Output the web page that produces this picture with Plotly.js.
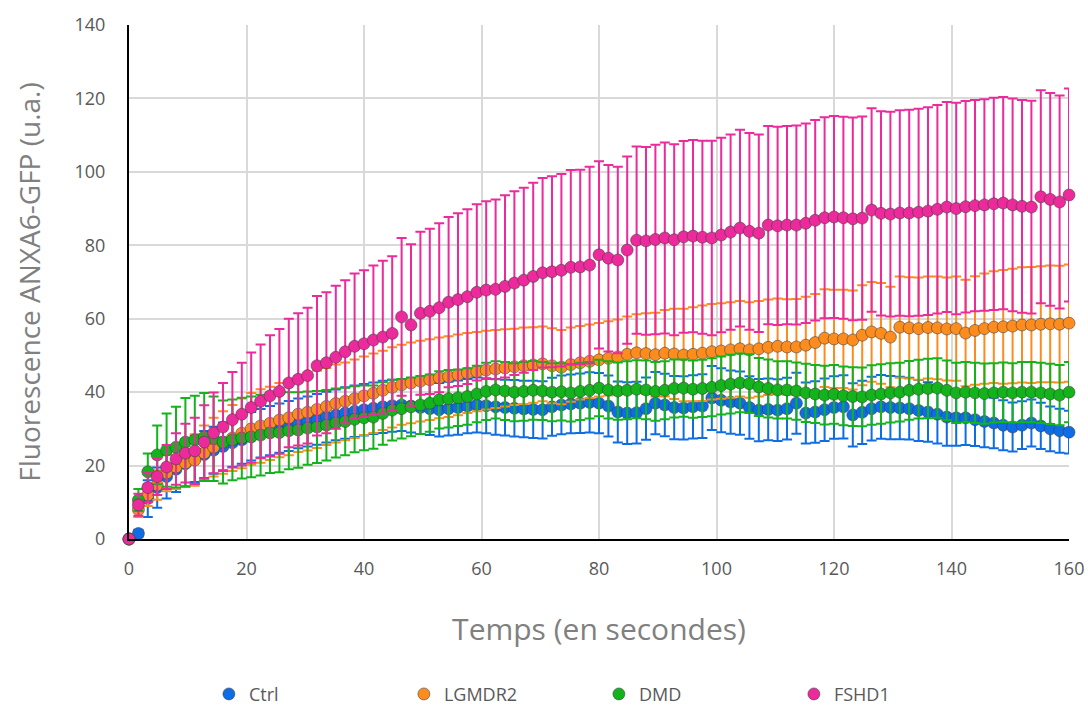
<!DOCTYPE html>
<html>
<head>
<meta charset="utf-8">
<script src="https://cdn.plot.ly/plotly-3.0.1.min.js"></script>
<style>
html,body{margin:0;padding:0;background:#fff;}
#chart{width:1088px;height:711px;}
</style>
</head>
<body>
<div id="chart"></div>
<script>
// Time axis (seconds): one acquisition every 1.6 s
const time = [0,1.6,3.2,4.8,6.4,8,9.6,11.2,12.8,14.4,16,17.6,19.2,20.8,22.4,24,25.6,27.2,28.8,30.4,32,33.6,35.2,36.8,38.4,40,41.6,43.2,44.8,46.4,48,49.6,51.2,52.8,54.4,56,57.6,59.2,60.8,62.4,64,65.6,67.2,68.8,70.4,72,73.6,75.2,76.8,78.4,80,81.6,83.2,84.8,86.4,88,89.6,91.2,92.8,94.4,96,97.6,99.2,100.8,102.4,104,105.6,107.2,108.8,110.4,112,113.6,115.2,116.8,118.4,120,121.6,123.2,124.8,126.4,128,129.6,131.2,132.8,134.4,136,137.6,139.2,140.8,142.4,144,145.6,147.2,148.8,150.4,152,153.6,155.2,156.8,158.4,160];

const seriesNames = ["Ctrl","LGMDR2","DMD","FSHD1"];

const ctrlMean = [0,1.5,11,14,17,19,20.5,21.8,23,24.2,25.2,26.2,27,28,28.8,29.5,30.2,30.8,31.5,32,32.6,33.2,33.8,34.3,34.8,35.2,35.6,36,36.3,36.5,36.2,35.8,35.5,35.2,35.5,35.8,36.2,36.5,36.3,36,35.8,35.6,35.4,35.3,35.2,36,36.5,36.8,37,37.2,37,36.2,34.6,34.3,34.4,35.5,37,36.5,35.8,35.7,36,36.2,38.4,37.8,37.3,37,35.8,35.1,35.3,35.1,35.5,37,34.3,34.6,35.2,35.8,36,33.8,34.5,35.5,36,35.8,35.7,35.5,35,34.6,34,33.2,33,33,32.5,32,31.6,31,30.5,31,31.6,30.8,30,29.5,29.1];
const ctrlErr = [0,1,5,5.5,6,6.2,6.3,6.3,6.4,6.4,6.5,6.5,6.5,6.6,6.6,6.7,6.7,6.8,6.8,6.8,6.9,6.9,6.9,7,7,7,7,7.1,7.1,7.1,7.2,7.2,7.2,7.3,7.3,7.4,7.4,7.5,7.5,7.6,7.6,7.7,7.7,7.8,7.8,7.9,8,8,8.1,8.2,8.2,8.3,8.3,8.4,8.4,8.5,8.5,8.5,8.6,8.6,8.6,8.7,8.7,8.7,8.6,8.6,8.5,8.5,8.4,8.4,8.4,8.3,8.3,8.4,8.5,8.5,8.6,8.6,8.6,8.7,8.7,8.6,8.5,8.4,8.3,8.1,8,7.8,7.6,7.4,7.2,7,6.9,6.8,6.7,6.5,6.4,6.3,6.1,6,5.8];

const lgmdMean = [0,8,12,14.7,18,19.6,20.7,21.5,23.4,25,26.3,27.5,28.8,30,30.8,31.5,32.4,33,34,34.5,35.3,36.1,36.9,37.5,38.2,39,39.7,40.5,41.3,42,42.5,43,43.4,43.9,44.2,44.7,45.2,45.6,46,46.3,46.6,46.9,47.2,47.4,47.7,47.2,46.8,47.5,48,48.4,48.8,49.2,49.6,50.3,50.7,50.5,50.2,50.6,50.4,50.1,50.3,50.6,51,51.2,51.5,51.8,51.5,51.8,52.2,52.5,52.3,52.3,52.8,53.5,54.7,54.5,54.5,54.2,55.5,56.4,56,55,57.7,57.5,57.3,57.6,57.5,57.2,57.3,56.1,56.8,57.3,57.7,57.8,58,58.3,58.3,58.5,58.6,58.5,58.8];
const lgmdErr = [0,2,3,4,5,6,6.5,7,7.5,8,8.5,9,9.5,9.8,10,10,10.1,10.2,10.3,10.4,10.5,10.5,10.6,10.6,10.7,10.7,10.8,10.8,10.9,10.9,11,11,11,11,11,11,10.9,10.8,10.7,10.6,10.5,10.4,10.4,10.3,10.2,10.2,10.1,10.1,10,10,10,10.1,10.2,10.3,10.5,11,11.4,11.8,12.3,12.6,12.8,13,13,13,13,13,13,13,13,13,13,13.1,13.2,13.2,13.3,13.4,13.4,13.5,13.6,13.6,13.7,13.7,13.8,13.8,13.9,13.9,14,14,14.2,14.5,14.8,15,15.2,15.5,15.6,15.7,15.8,15.8,15.9,15.9,16];

const dmdMean = [0,10.6,18.3,22.9,24.2,25,26.4,27,27.8,27.3,26.4,27,27.5,27.8,28.3,28.9,29,29.5,29.7,30.2,30.5,31,31.6,32,32.6,33,33.2,34.2,35.1,35.5,36,36.5,37,37.9,38.2,38.5,38.8,39.5,40.2,40.6,40.3,40,40.2,40.5,40.3,40,40.1,39.8,40.2,40.5,41.1,40.6,40.3,40.5,40.8,40.6,40.2,40.5,41,41.1,40.8,41,41.3,41.8,42.2,42.5,42.3,41.4,41,40.6,40.6,40.3,39.8,39.5,39.2,39.4,39,38.8,38.7,39.2,39.5,39.8,40,40.5,40.8,41,41.1,40.5,39.8,40,39.8,39.6,39.8,40,39.8,40,40,39.8,39.5,39.2,40];
const dmdErr = [0,3,5,8,10,11,12,12,12,11.5,11.3,11,11,11,11,10.9,10.8,10.5,10.3,10,9.8,9.6,9.4,9.2,9,8.8,8.6,8.5,8.3,8.1,8,7.9,7.8,7.8,7.8,7.7,7.7,7.7,7.8,7.8,7.9,7.9,8,8,7.9,7.9,7.8,7.8,7.8,7.7,7.7,7.8,7.8,7.9,7.9,8,8,7.9,7.9,7.8,7.8,7.8,7.9,7.9,8,8,8,7.9,7.9,7.8,7.8,7.8,7.9,7.9,8,8,8,8,8,8.1,8.1,8.1,8,8,8,8.1,8.1,8.1,8.2,8.2,8.2,8.2,8.1,8.1,8.1,8.2,8.2,8.2,8.2,8.2,8.2];

const fshdMean = [0,9.3,14,17,19.6,21.8,23.4,24,26.4,28.9,30.5,32.5,34,35.8,37.5,39,40.2,42.5,43.5,44.5,47.2,48,49.5,51,52.5,53.2,54.2,55,56,60.5,58.3,61.5,62,63,64.5,65.2,66,67.2,67.8,68,68.8,69.7,70.5,71.5,72.5,72.8,73.2,74,74.1,74.6,77.4,76.5,76,78.7,81.4,81.2,81.6,82,81.5,82.3,82.5,82.2,82,82.8,83.6,84.7,83.8,83.3,85.5,85.3,85.5,85.5,86,86.8,87.5,87.7,87.5,87.2,87.4,89.6,88.7,88.5,88.8,88.8,89,89.3,89.8,90.4,90,90.5,90.8,91,91.3,91.5,91,90.6,90.4,93.2,92.5,91.8,93.7];
const fshdErr = [0,3,4,5,6,7,8,9,10,11,12,13,14,15,15.5,16.5,17,17.5,18,18.5,19,19.2,19.5,19.5,19.8,20,20.3,20.8,21,21.5,22,22.2,22.5,23,23.2,23.5,23.8,24,24.2,24.5,24.8,25,25.2,25.5,25.8,26,26.2,26.5,26.5,26.8,25.5,25.4,25.4,25.5,25.5,25.6,25.8,26,26,26.1,26.2,26.3,26.5,26.5,26.6,26.8,26.8,26.9,27,27,27,27.1,27.2,27.3,27.4,27.5,27.5,27.6,27.7,27.7,27.8,27.9,28,28.1,28.2,28.3,28.4,28.6,28.8,28.8,28.8,28.8,28.9,28.9,29,29,29,29,29,29,29];

const colors = ["#0c6de6","#fd8c1e","#12b31b","#ec2a9c"];
const means = [ctrlMean, lgmdMean, dmdMean, fshdMean];
const errs = [ctrlErr, lgmdErr, dmdErr, fshdErr];

const traces = seriesNames.map((name, k) => ({
  type: "scatter",
  mode: "markers",
  name: name,
  x: time,
  y: means[k],
  cliponaxis: false,
  marker: {color: colors[k], size: 12, line: {color: "rgba(60,60,60,0.55)", width: 1}},
  error_y: {type: "data", array: errs[k], visible: true, color: colors[k], thickness: 2, width: 5}
}));

const FONT = "'Open Sans', 'Noto Sans', sans-serif";

const layout = {
  width: 1088, height: 711,
  paper_bgcolor: "#ffffff", plot_bgcolor: "#ffffff",
  margin: {l: 129, r: 19, t: 25, b: 172, autoexpand: false},
  font: {family: FONT, color: "#595959"},
  showlegend: true,
  legend: {
    orientation: "h", x: 0.085, xanchor: "left", y: -0.302, yanchor: "middle",
    entrywidth: 150, entrywidthmode: "pixels",
    font: {family: FONT, size: 18, color: "#595959"}, itemclick: false
  },
  xaxis: {
    range: [0, 160], tickvals: [0,20,40,60,80,100,120,140,160],
    showgrid: true, gridcolor: "#d9d9d9", gridwidth: 2,
    zeroline: false, showline: true, linecolor: "#000000", linewidth: 2,
    ticks: "", ticklabelstandoff: 12,
    tickfont: {family: FONT, size: 18, color: "#595959"},
    title: {text: "Temps (en secondes)", font: {family: FONT, size: 30, color: "#808080"}, standoff: 40},
    automargin: false
  },
  yaxis: {
    range: [0, 140], tickvals: [0,20,40,60,80,100,120,140],
    showgrid: true, gridcolor: "#d9d9d9", gridwidth: 2,
    zeroline: false, showline: true, linecolor: "#000000", linewidth: 2,
    ticks: "", ticklabelstandoff: 18,
    tickfont: {family: FONT, size: 18, color: "#595959"},
    title: {text: "Fluorescence ANXA6-GFP (u.a.)", font: {family: FONT, size: 28, color: "#808080"}, standoff: 26},
    automargin: false
  }
};

Plotly.newPlot("chart", traces, layout, {displayModeBar: false, staticPlot: true});
</script>
</body>
</html>
